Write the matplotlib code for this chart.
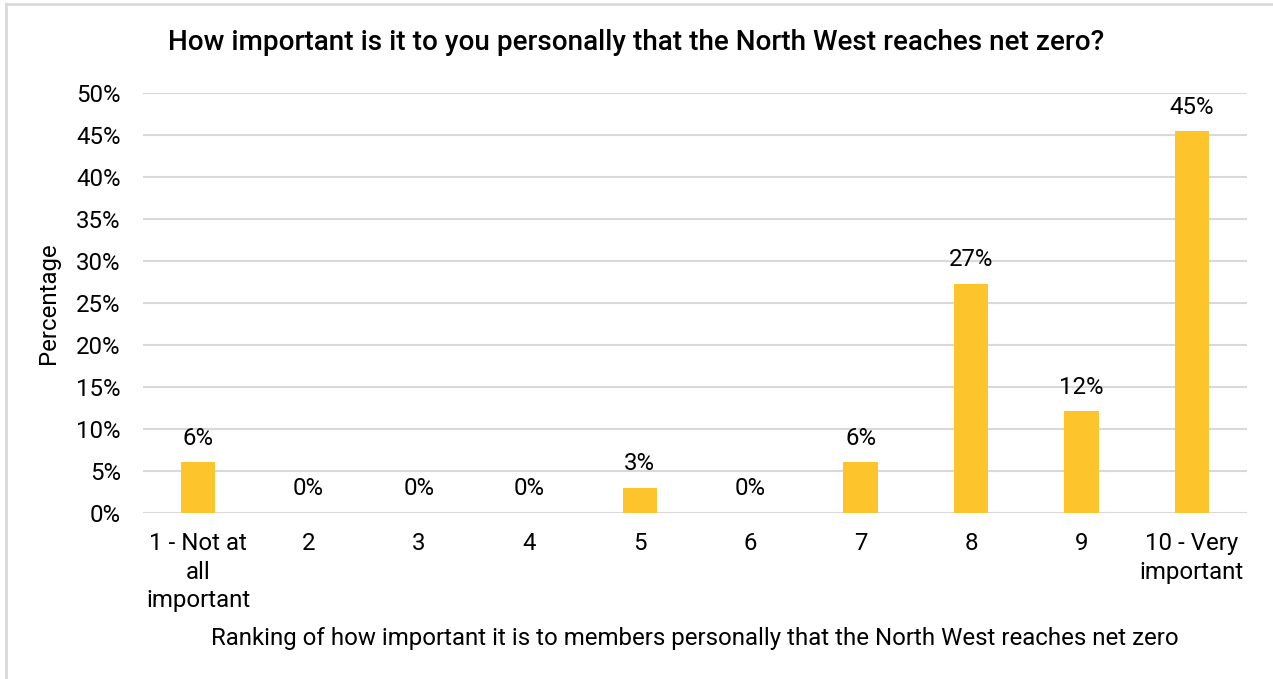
import matplotlib
matplotlib.use("Agg")
import matplotlib.pyplot as plt
from matplotlib.lines import Line2D

plt.rcParams['font.family'] = ['Roboto', 'DejaVu Sans']

categories = ["1 - Not at\nall\nimportant", "2", "3", "4", "5", "6", "7", "8", "9",
              "10 - Very\nimportant"]
# share of respondents per ranking (33 responses)
values = [2 / 33, 0, 0, 0, 1 / 33, 0, 2 / 33, 9 / 33, 4 / 33, 15 / 33]
y_ticks = [0, 0.05, 0.10, 0.15, 0.20, 0.25, 0.30, 0.35, 0.40, 0.45, 0.50]

title = "How important is it to you personally that the North West reaches net zero?"
x_label = "Ranking of how important it is to members personally that the North West reaches net zero"
y_label = "Percentage"

bar_color = "#FDC42C"
grid_color = "#D9D9D9"
fs = 17.3

fig = plt.figure(figsize=(12.73, 6.79), dpi=100)
ax = fig.add_axes([0.1123, 0.2445, 0.8673, 0.6185])

x = range(len(categories))
ax.bar(x, values, width=0.31, color=bar_color, zorder=3)

for xi, v in zip(x, values):
    ax.annotate(f"{v * 100:.0f}%", (xi, v), xytext=(0, 9), textcoords="offset points",
                ha="center", va="bottom", fontsize=fs, color="#000000")

ax.set_xlim(-0.5, len(categories) - 0.5)
ax.set_ylim(0, 0.5)
ax.set_yticks(y_ticks)
ax.set_yticklabels([f"{t * 100:.0f}%" for t in y_ticks], fontsize=fs)
ax.set_xticks(list(x))
ax.set_xticklabels(categories, fontsize=fs, linespacing=1.29)
ax.tick_params(axis="both", length=0)
ax.tick_params(axis="y", pad=16)
ax.tick_params(axis="x", pad=14)

ax.grid(axis="y", color=grid_color, linewidth=1.5, zorder=0)
for s in ax.spines.values():
    s.set_visible(False)

ax.set_ylabel(y_label, fontsize=fs, labelpad=12)
ax.set_xlabel(x_label, fontsize=fs, labelpad=11)
fig.text(0.5, 0.938, title, ha="center", va="center", fontsize=20.1, fontweight="medium")

# light frame along the left and top edges
fig.add_artist(Line2D([0.0047, 0.0047], [0, 0.9935], transform=fig.transFigure,
                      color=grid_color, linewidth=2))
fig.add_artist(Line2D([0.0047, 1], [0.9935, 0.9935], transform=fig.transFigure,
                      color=grid_color, linewidth=2))

fig.savefig("out.png", dpi=100)
